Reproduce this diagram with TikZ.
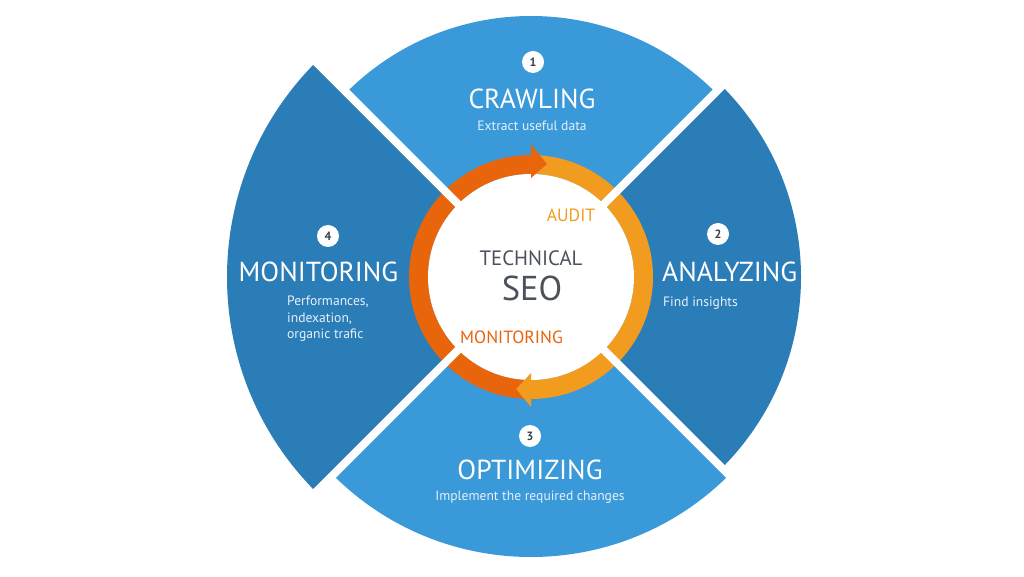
\documentclass[tikz,border=0pt]{standalone}
\usepackage{fontspec}
\setmainfont{PT Sans}
\usetikzlibrary{calc}
\definecolor{lblue}{HTML}{3A99D8}
\definecolor{dblue}{HTML}{2B7DB8}
\definecolor{dorange}{HTML}{E8650C}
\definecolor{lorange}{HTML}{F29C1F}
\definecolor{greytxt}{HTML}{4B525C}
\definecolor{numtxt}{HTML}{3A3F47}
\definecolor{subtxt}{HTML}{E6F1FA}
\begin{document}
\begin{tikzpicture}[x=1pt,y=1pt,
  title/.style={text=white,font=\fontsize{27.5}{30}\selectfont,inner sep=0pt},
  subtitle/.style={text=subtxt,font=\fontsize{13.6}{16.5}\selectfont,inner sep=0pt},
  numc/.style={circle,fill=white,minimum size=22pt,inner sep=0pt,text=numtxt,font=\fontsize{12}{12}\selectfont\bfseries},
  centre/.style={inner sep=0pt}]
\useasboundingbox (0,0) rectangle (1024,576);
\coordinate (C) at (531,299);
\begin{scope}[shift={(C)}]
  % segments
  \fill[lblue] (0,0) -- (45:261) arc[start angle=45,end angle=135,radius=261] -- cycle;
  \fill[dblue] (0,0) -- (135:304) arc[start angle=135,end angle=225,radius=304] -- cycle;
  \fill[lblue] (0,0) -- (225:280) arc[start angle=225,end angle=315,radius=280] -- cycle;
  \fill[dblue] (0,0) -- (-45:270) arc[start angle=-45,end angle=45,radius=270] -- cycle;
  % ring
  \draw[dorange,line width=19pt] (90:112.5) arc[start angle=90,end angle=270,radius=112.5];
  \draw[lorange,line width=19pt] (-90:112.5) arc[start angle=-90,end angle=90,radius=112.5];
  % separators
  \draw[white,line width=8pt] (45:330) -- (225:330);
  \draw[white,line width=8pt] (135:330) -- (-45:330);
  \fill[white] (0,0) circle[radius=103];
  % arrow heads
  \fill[dorange] (90:99) -- (90:133) -- (82:114) -- cycle;
  \fill[lorange] (270:96) -- (270:130) -- (262.5:113) -- cycle;
\end{scope}
% segment texts
\node[numc] (n1) at (533,514) {1};
\node[title] (t1) at (532,477) {CRAWLING};
\node[subtitle] (s1) at (532,450) {Extract useful data};
\node[numc] (n2) at (718,342) {2};
\node[title,anchor=west] (t2) at (662,304) {ANALYZING};
\node[subtitle,anchor=west] (s2) at (663,273) {Find insights};
\node[numc] (n3) at (530,140) {3};
\node[title] (t3) at (530,106) {OPTIMIZING};
\node[subtitle] (s3) at (530,79) {Implement the required changes};
\node[numc] (n4) at (328,340) {4};
\node[title] (t4) at (318.5,304) {MONITORING};
\node[subtitle,anchor=north west,align=left] (s4) at (287,280) {Performances,\\indexation,\\organic trafic};
% centre texts
\node[centre,text=lorange,font=\fontsize{17.7}{17.7}\selectfont] (audit) at (571,361) {AUDIT};
\node[centre,text=greytxt,font=\fontsize{20.8}{20.8}\selectfont] (tech) at (531,318) {TECHNICAL};
\node[centre,text=greytxt,font=\fontsize{34.5}{34.5}\selectfont] (seo) at (532,288) {SEO};
\node[centre,text=dorange,font=\fontsize{17.7}{17.7}\selectfont] (mon) at (511.5,239) {MONITORING};
\end{tikzpicture}
\end{document}
